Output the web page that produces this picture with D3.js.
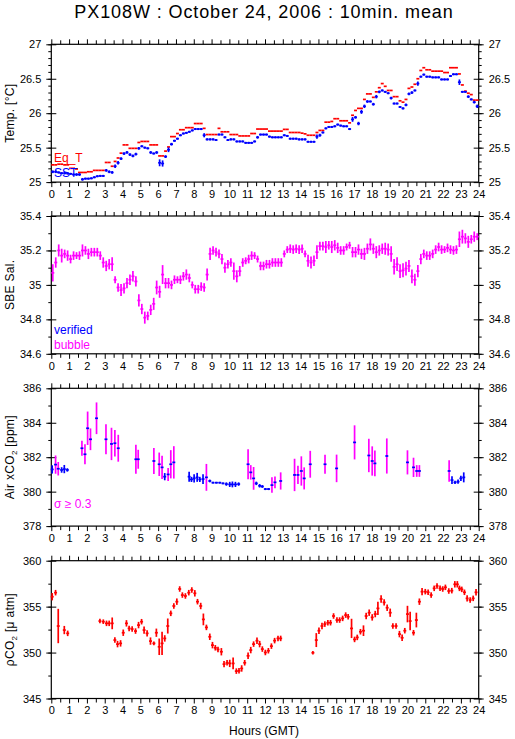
<!DOCTYPE html>
<html><head><meta charset="utf-8">
<script src="https://cdn.jsdelivr.net/npm/d3@7"></script>
<style>
body{margin:0;background:#fff;}
svg{display:block;font-family:"Liberation Sans",Arial,Helvetica,sans-serif;}
</style></head><body>
<svg id="c" width="515" height="739"></svg>
<script>
// ---------------- data ----------------
const title = "PX108W : October 24, 2006 : 10min. mean";
const hourTicks = d3.range(0, 25, 1);
const halfHourTicks = d3.range(0.5, 24, 1);

// 10-minute slots (144 per day)
const sst = [
25.15,25.15,25.14,25.13,25.13,25.125, 25.12,25.11,25.11,25.11,25.04,25.05,
25.05,25.055,25.07,25.085,25.09,25.09, 25.17,25.15,25.14,25.23,25.28,25.34,
25.415,25.43,25.40,25.38,25.405,25.49, 25.52,25.50,25.49,25.43,25.415,25.43,
25.28,25.27,25.37,25.47,25.55,25.60, 25.63,25.68,25.705,25.715,25.73,25.75,
25.77,25.77,25.77,25.68,25.62,25.62, 25.62,25.61,25.69,25.69,25.65,25.61,
25.62,25.62,25.59,25.59,25.59,25.57, 25.57,25.57,25.59,25.65,25.69,25.69,
25.69,25.66,25.65,25.65,25.65,25.65, 25.68,25.67,25.63,25.63,25.63,25.62,
25.62,25.62,25.585,25.585,25.585,25.66, 25.68,25.72,25.78,25.80,25.80,25.81,
25.835,25.82,25.81,25.81,25.77,25.91, 25.94,25.85,26.02,26.10,26.17,26.17,
26.13,26.24,26.31,26.33,26.31,26.29, 26.22,26.14,26.14,26.09,26.07,26.12,
26.28,26.30,26.33,26.43,26.53,26.56, 26.53,26.53,26.52,26.52,26.52,26.49,
26.49,26.49,26.54,26.565,26.565,26.45, 26.31,26.31,26.24,26.20,26.16,26.10];
const sstErr = [
.02,.02,.015,.015,.02,.015, .015,.015,.02,.02,.02,.015,
.015,.015,.015,.015,.015,.015, .02,.02,.02,.025,.025,.02,
.02,.02,.02,.02,.02,.02, .015,.015,.015,.02,.015,.02,
.05,.045,.02,.035,.02,.015, .015,.015,.015,.015,.015,.015,
.015,.015,.015,.03,.015,.015, .015,.015,.015,.015,.015,.015,
.015,.015,.015,.015,.015,.015, .015,.015,.015,.02,.015,.015,
.015,.015,.015,.015,.015,.015, .015,.015,.015,.015,.015,.015,
.015,.015,.015,.015,.015,.03, .02,.015,.015,.015,.015,.015,
.015,.015,.015,.015,.015,.035, .02,.025,.03,.025,.02,.015,
.02,.025,.02,.015,.015,.015, .02,.015,.015,.015,.015,.02,
.02,.02,.015,.03,.015,.015, .015,.015,.015,.015,.015,.015,
.015,.015,.015,.015,.015,.04, .015,.015,.02,.015,.02,.025];
const eqT = [
25.25,25.25,25.26,25.26,25.25,25.25, 25.20,25.20,25.19,25.14,25.14,25.14,
25.15,25.15,25.17,25.17,25.17,25.17, 25.285,25.285,25.23,25.30,25.35,25.42,
25.54,25.54,25.49,25.49,25.49,25.575, 25.59,25.59,25.59,25.54,25.54,25.54,
25.38,25.38,25.45,25.51,25.66,25.66, 25.705,25.76,25.76,25.79,25.79,25.79,
25.85,25.85,25.85,25.78,25.69,25.69, 25.69,25.69,25.78,25.73,25.73,25.73,
25.69,25.69,25.69,25.67,25.67,25.67, 25.67,25.705,25.705,25.77,25.77,25.77,
25.77,25.74,25.74,25.74,25.74,25.74, 25.765,25.765,25.72,25.72,25.72,25.72,
25.71,25.70,25.68,25.68,25.68,25.72, 25.75,25.75,25.87,25.87,25.88,25.92,
25.92,25.89,25.89,25.89,25.86,25.97, 26.04,26.07,26.07,26.20,26.28,26.28,
26.23,26.31,26.37,26.43,26.39,26.33, 26.33,26.24,26.24,26.18,26.16,26.20,
26.36,26.38,26.42,26.50,26.62,26.66, 26.63,26.63,26.61,26.61,26.61,26.61,
26.59,26.59,26.66,26.66,26.66,26.57, 26.41,26.32,26.29,26.27,26.19,26.19];

const sal = [
35.07,35.13,35.20,35.17,35.18,35.17, 35.15,35.17,35.17,35.17,35.20,35.20,
35.18,35.19,35.19,35.19,35.17,35.13, 35.11,35.12,35.12,35.03,34.985,34.97,
34.98,35.01,35.03,35.05,35.02,34.91, 34.86,34.81,34.82,34.855,34.89,34.985,
34.96,35.06,35.01,35.01,35.00,35.03, 35.03,35.03,35.05,35.06,35.04,35.00,
34.975,34.975,34.99,34.985,35.06,35.18, 35.20,35.19,35.18,35.15,35.10,35.12,
35.13,35.08,35.05,35.08,35.13,35.14, 35.15,35.17,35.17,35.15,35.11,35.11,
35.12,35.12,35.13,35.13,35.13,35.13, 35.18,35.205,35.21,35.205,35.21,35.205,
35.21,35.18,35.14,35.13,35.14,35.19, 35.225,35.225,35.22,35.23,35.22,35.23,
35.215,35.20,35.20,35.22,35.23,35.19, 35.19,35.205,35.18,35.18,35.21,35.235,
35.21,35.19,35.20,35.21,35.21,35.205, 35.18,35.105,35.12,35.08,35.085,35.095,
35.11,35.05,35.03,35.08,35.15,35.18, 35.17,35.17,35.18,35.205,35.22,35.205,
35.205,35.215,35.205,35.20,35.205,35.265, 35.28,35.27,35.25,35.265,35.28,35.28];
const salErr = [
.05,.03,.035,.04,.025,.03, .025,.025,.02,.025,.035,.025,
.03,.025,.025,.025,.025,.03, .03,.03,.04,.02,.025,.035,
.03,.03,.03,.03,.03,.035, .03,.035,.025,.03,.035,.04,
.035,.055,.03,.03,.025,.025, .02,.025,.025,.03,.025,.02,
.025,.025,.025,.025,.035,.035, .025,.025,.025,.03,.03,.025,
.025,.05,.035,.03,.025,.02, .025,.025,.02,.02,.025,.025,
.025,.025,.025,.025,.025,.025, .02,.02,.025,.025,.025,.025,
.025,.02,.035,.035,.03,.04, .025,.025,.035,.025,.035,.03,
.03,.025,.025,.02,.02,.03, .03,.03,.03,.035,.03,.035,
.03,.035,.03,.03,.035,.035, .045,.045,.04,.04,.04,.04,
.035,.04,.035,.035,.03,.025, .025,.025,.025,.025,.025,.025,
.02,.025,.025,.025,.025,.045, .04,.03,.035,.025,.03,.02];

const xco2Time = [0.05,0.24,0.39,0.58,0.73,0.9, 1.72,1.89,2.04,2.2,2.54, 3.07,3.38,3.57,3.76, 4.75,4.88,
5.76,6.06,6.22,6.37,6.56,6.71,6.88, 7.74,7.87,8.02,8.19,8.34,8.52,8.71,8.9,9.08,9.27,9.46,9.64,9.83,10.02,10.17,10.34,10.52,
11.05,11.2,11.36,11.51,11.7,11.85,12.02,12.2,12.39,12.56,12.88, 13.66,13.85,14.04,14.2,14.54,
15.37,16.02,17.03,17.83,18.02,18.17,18.84, 20.0,20.34,20.52,20.67, 22.34,22.5,22.67,22.84,23.0,23.16];
const xco2 = [381.29,381.57,381.33,381.26,381.31,381.26, 382.52,382.17,383.68,383.04,384.26, 383.04,382.77,382.81,382.52, 381.88,381.88,
381.78,381.59,381.41,380.87,381.0,381.59,381.7, 380.87,380.71,380.77,380.83,380.71,380.73,380.83,380.62,380.52,380.52,380.52,380.48,380.44,380.42,380.42,380.42,380.44,
381.59,381.12,380.77,380.48,380.34,380.3,380.15,380.15,380.38,380.54,380.62, 380.97,380.97,381.2,380.77,381.59,
381.59,381.35,382.86,382.1,381.78,381.64,382.07, 381.7,381.41,381.2,381.2, 381.2,380.67,380.54,380.58,380.77,380.83];
const xco2Sd = [0.24,0.53,0.39,0.16,0.24,0.1, 0.44,0.58,0.97,0.63,0.92, 0.87,0.94,0.77,0.78, 0.84,0.55,
0.76,0.68,0.68,0.21,0.38,0.82,0.94, 0.29,0.15,0.24,0.26,0.15,0.28,0.78,0.08,0.05,0.05,0.05,0.05,0.1,0.15,0.17,0.15,0.1,
0.87,0.42,0.66,0.1,0.1,0.08,0.06,0.06,0.45,0.34,0.5, 0.94,0.53,0.85,0.64,0.78,
0.55,0.8,0.99,0.97,0.85,0.75,1.02, 0.7,0.56,0.34,0.34, 0.63,0.22,0.1,0.12,0.15,0.29];
const sigmaLimit = 0.3;

const pco2Time = [0.05,0.24,0.39,0.73,0.92,
2.73,2.92,3.1,3.25,3.42,3.57,3.72,3.89,4.04,4.22,4.37,4.54,4.73,4.9,5.07,5.21,5.38,5.57,5.76,5.9,
6.06,6.22,6.37,6.54,6.71,6.88,7.05,7.21,7.36,7.53,7.72,7.89,8.06,8.21,8.39,8.54,8.71,8.9,9.05,9.21,
9.36,9.55,9.7,9.87,10.02,10.21,10.39,10.54,10.69,10.86,11.05,11.2,11.36,11.55,11.7,11.85,12.02,12.19,12.36,12.54,12.73,12.88,
14.69,14.88,15.03,15.2,15.36,15.53,15.68,15.85,16.04,16.19,16.36,16.53,16.67,16.86,17.03,17.18,17.36,17.53,17.68,17.85,
18.02,18.19,18.34,18.52,18.69,18.86,19.03,19.18,19.36,19.55,19.7,19.85,20.0,20.15,20.34,20.5,20.67,20.82,21.0,21.16,
21.33,21.5,21.66,21.83,21.98,22.13,22.32,22.49,22.66,22.8,22.92,23.05,23.2,23.35,23.52,23.69,23.85];
const pco2 = [356.08,356.52,352.89,352.45,352.09,
353.43,353.36,353.18,353.18,353.18,351.36,350.92,351.0,352.16,353.18,352.63,352.56,352.34,352.99,353.36,352.45,352.09,351.25,351.0,352.16,
350.63,351.0,351.54,352.89,354.27,355.07,355.54,356.92,356.26,356.16,356.52,356.81,356.45,355.54,355.07,353.61,352.74,351.72,350.81,350.52,
350.34,350.09,348.74,348.89,348.82,348.82,347.98,348.02,348.27,348.89,349.65,350.27,350.92,351.29,350.92,350.38,350.01,350.2,350.7,351.3,351.54,351.54,
349.98,351.36,352.38,352.89,353.1,353.25,353.25,353.98,353.54,353.54,353.72,354.08,353.9,352.63,351.43,351.65,352.27,352.38,353.98,354.34,
353.83,354.19,354.81,355.83,355.46,354.88,354.34,352.89,352.89,352.01,351.61,352.38,354.19,353.43,352.16,353.54,355.54,356.63,356.63,356.56,
356.26,356.99,357.25,356.99,356.92,357.1,356.7,356.74,357.43,357.43,356.99,356.88,356.56,355.9,355.72,355.9,356.56];
const pco2Err = [0.4,0.3,1.87,0.45,0.3,
0.25,0.25,0.3,0.3,0.64,0.3,0.35,0.35,0.35,0.35,0.3,0.3,0.3,0.35,0.3,0.4,0.35,0.4,0.2,0.45,
0.9,1.27,0.35,0.82,0.3,0.3,0.35,0.3,0.3,0.3,0.3,0.3,0.35,0.3,0.35,0.64,0.3,0.35,0.35,0.3,
0.3,0.4,0.35,0.3,0.4,0.64,0.3,0.3,0.35,0.3,0.35,0.35,0.3,0.35,0.35,0.3,0.3,0.3,0.3,0.3,0.3,0.3,
0.2,0.76,0.35,0.35,0.3,0.3,0.3,0.3,0.3,0.3,0.3,0.3,0.3,1.05,0.3,0.3,0.3,0.58,0.35,0.35,
0.35,0.35,0.73,0.4,0.35,0.35,0.45,0.3,0.3,0.35,0.36,0.3,0.9,1.0,0.3,0.8,0.35,0.4,0.3,0.3,
0.3,0.3,0.3,0.3,0.3,0.3,0.3,0.3,0.35,0.35,0.3,0.3,0.3,0.35,0.3,0.3,0.35];

const tempTicks = [25, 25.5, 26, 26.5, 27];
const salTicks = [34.6, 34.8, 35, 35.2, 35.4];
const xco2Ticks = [378, 380, 382, 384, 386];
const pco2Ticks = [345, 350, 355, 360];

// ---------------- layout ----------------
const BLUE = "#0000ff", RED = "#ff0000", MAG = "#ff00ff";
const svg = d3.select("#c");
const xL = 51.3, xR = 478.7, PH = 137.8;
const tops = [44.3, 216, 388.3, 560.7];
const x = d3.scaleLinear().domain([0, 24]).range([xL, xR]);
const slot = 1/6;

svg.append("text").attr("x", 264).attr("y", 18).attr("text-anchor", "middle")
  .style("font-size", "18px").style("letter-spacing", "0.9px").text(title);

function panel(i, domain, major, minor, fmt) {
  const top = tops[i], bot = top + PH;
  const y = d3.scaleLinear().domain(domain).range([bot, top]);
  const g = svg.append("g");
  const ax = (a, tx, ty) => {
    const s = g.append("g").attr("transform", `translate(${tx},${ty})`).call(a);
    s.select(".domain").remove();
    s.selectAll("line").attr("stroke", "#000");
    s.selectAll("text").attr("fill", "#000").style("font-size", "11px").style("font-family", "inherit");
    return s;
  };
  // x axes
  ax(d3.axisBottom(x).tickValues(hourTicks).tickSize(5).tickPadding(3).tickFormat(d3.format("d")), 0, bot);
  ax(d3.axisBottom(x).tickValues(halfHourTicks).tickSize(4).tickFormat(""), 0, bot);
  ax(d3.axisTop(x).tickValues(hourTicks).tickSize(5).tickFormat(""), 0, top);
  ax(d3.axisTop(x).tickValues(halfHourTicks).tickSize(4).tickFormat(""), 0, top);
  // y axes left
  ax(d3.axisLeft(y).tickValues(major).tickSize(5).tickPadding(5).tickFormat(fmt), xL, 0);
  ax(d3.axisRight(y).tickValues(major).tickSize(5).tickFormat(""), xL, 0);
  ax(d3.axisLeft(y).tickValues(minor).tickSize(3).tickFormat(""), xL, 0);
  // y axes right
  ax(d3.axisRight(y).tickValues(major).tickSize(5).tickPadding(5).tickFormat(fmt), xR, 0);
  ax(d3.axisLeft(y).tickValues(major).tickSize(5).tickFormat(""), xR, 0);
  ax(d3.axisRight(y).tickValues(minor).tickSize(3).tickFormat(""), xR, 0);
  g.append("rect").attr("x", xL).attr("y", top).attr("width", xR - xL).attr("height", PH)
    .attr("fill", "none").attr("stroke", "#000").attr("stroke-width", 1.2);
  return { y, g, top, bot };
}
const fmtG = d => String(+d.toFixed(2));
function minorTicks(a, b, s) { return d3.range(0, Math.round((b - a) / s) + 1).map(k => +(a + k * s).toFixed(4)); }

function crosses(g, y, times, vals, errs, hColor, vColorFn) {
  const m = g.append("g").attr("stroke-width", 1.7).attr("fill", "none");
  times.forEach((t, k) => {
    if (errs) m.append("line").attr("x1", x(t)).attr("x2", x(t))
      .attr("y1", y(vals[k] - errs[k])).attr("y2", y(vals[k] + errs[k]))
      .attr("stroke", vColorFn ? vColorFn(k) : hColor);
    m.append("line").attr("x1", x(t - slot / 2)).attr("x2", x(t + slot / 2))
      .attr("y1", y(vals[k])).attr("y2", y(vals[k])).attr("stroke", hColor);
  });
}
const slotTimes = d3.range(144).map(i => i / 6 + 1 / 12);

function yTitle(p, parts) {
  const t = svg.append("text").attr("transform", `translate(14,${(p.top + p.bot) / 2}) rotate(-90)`)
    .attr("text-anchor", "middle").style("font-size", "12px").style("letter-spacing", "0.3px");
  parts.forEach(([s, sub]) => {
    const ts = t.append("tspan").text(s);
    if (sub) ts.style("font-size", "8px").attr("dy", 3);
    else if (t.selectAll("tspan").size() > 1) ts.attr("dy", -3);
  });
}
function legend(xp, yp, color, s) {
  svg.append("text").attr("x", xp).attr("y", yp).attr("fill", color).style("font-size", "12px").text(s);
}

// Panel 1
const p1 = panel(0, [25, 27], tempTicks, minorTicks(25, 27, 0.1), fmtG);
crosses(p1.g, p1.y, slotTimes, eqT, null, RED, null);
crosses(p1.g, p1.y, slotTimes, sst, sstErr, BLUE, null);
yTitle(p1, [["Temp. [°C]"]]);
legend(54, 162, RED, "Eq_T");
legend(54, 177, BLUE, "SST");

// Panel 2
const p2 = panel(1, [34.6, 35.4], salTicks, minorTicks(34.6, 35.4, 0.1), fmtG);
crosses(p2.g, p2.y, slotTimes, sal, salErr, MAG, null);
yTitle(p2, [["SBE Sal."]]);
legend(54, 334, BLUE, "verified");
legend(54, 349, MAG, "bubble");

// Panel 3
const p3 = panel(2, [378, 386], xco2Ticks, minorTicks(378, 386, 1), fmtG);
crosses(p3.g, p3.y, xco2Time, xco2, xco2Sd, BLUE, k => xco2Sd[k] >= sigmaLimit ? MAG : BLUE);
yTitle(p3, [["Air xCO"], ["2", true], [" [ppm]"]]);
legend(54, 508, MAG, "σ ≥ 0.3");

// Panel 4
const p4 = panel(3, [345, 360], pco2Ticks, minorTicks(345, 360, 2.5), fmtG);
crosses(p4.g, p4.y, pco2Time, pco2, pco2Err, RED, null);
yTitle(p4, [["ρCO"], ["2", true], [" [μ atm]"]]);

svg.append("text").attr("x", 264).attr("y", 735).attr("text-anchor", "middle")
  .style("font-size", "12px").text("Hours (GMT)");
</script></body></html>
